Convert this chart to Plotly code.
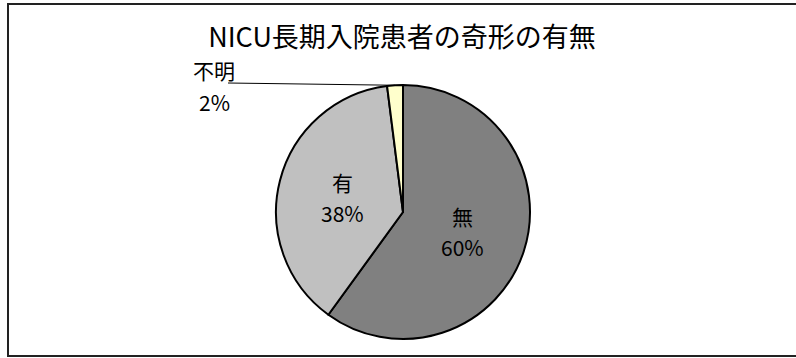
import math
import plotly.graph_objects as go

# Chart data
labels = ["無", "有", "不明"]
values = [60, 38, 2]
colors = ["#808080", "#C0C0C0", "#FFFFCC"]
title_text = "NICU長期入院患者の奇形の有無"

W, H = 796, 358
FONT = "Noto Sans CJK JP"
LABEL_SIZE = 21

# Pie placement (pixels)
cx, cy, R = 403, 212, 127

def px_to_paper(x, y):
    return x / W, 1 - y / H

dx0, dy1 = px_to_paper(cx - R, cy - R)
dx1, dy0 = px_to_paper(cx + R, cy + R)

fig = go.Figure(go.Pie(
    labels=labels,
    values=values,
    sort=False,
    direction="clockwise",
    rotation=0,
    marker=dict(colors=colors, line=dict(color="black", width=2)),
    textinfo="none",
    hoverinfo="skip",
    showlegend=False,
    domain=dict(x=[dx0, dx1], y=[dy0, dy1]),
))

# Slice mid-angles (clockwise from 12 o'clock)
total = sum(values)
mids = []
acc = 0
for v in values:
    mids.append((acc + v / 2) / total * 2 * math.pi)
    acc += v

annotations = []
shapes = []
for lab, v, a in zip(labels, values, mids):
    pct = f"{round(v / total * 100)}%"
    if v / total > 0.05:
        r = 0.49 * R
        x = cx + r * math.sin(a)
        y = cy - r * math.cos(a)
        for txt, off in ((lab, -15), (pct, 16)):
            px, py = px_to_paper(x, y + off)
            annotations.append(dict(x=px, y=py, xref="paper", yref="paper",
                                    text=txt, showarrow=False,
                                    font=dict(family=FONT, size=LABEL_SIZE, color="black"),
                                    xanchor="center", yanchor="middle"))
    else:
        # outside label with leader line
        ex = cx + R * math.sin(a)
        ey = cy - R * math.cos(a)
        lx, ly = 228, 83
        x0p, y0p = px_to_paper(lx, ly)
        x1p, y1p = px_to_paper(ex, ey)
        shapes.append(dict(type="line", xref="paper", yref="paper",
                           x0=x0p, y0=y0p, x1=x1p, y1=y1p,
                           line=dict(color="black", width=1)))
        for txt, off in ((lab, -13), (pct, 19)):
            px, py = px_to_paper(lx - 14, ly + off)
            annotations.append(dict(x=px, y=py, xref="paper", yref="paper",
                                    text=txt, showarrow=False,
                                    font=dict(family=FONT, size=LABEL_SIZE, color="black"),
                                    xanchor="center", yanchor="middle"))

# Chart border
bx0, by0 = px_to_paper(8, 356)
bx1, by1 = px_to_paper(800, 4)
shapes.append(dict(type="rect", xref="paper", yref="paper",
                   x0=bx0, y0=by0, x1=bx1, y1=by1,
                   line=dict(color="#222222", width=2), layer="above"))

tx, ty = px_to_paper(402, 38)
fig.update_layout(
    width=W, height=H,
    margin=dict(l=0, r=0, t=0, b=0),
    paper_bgcolor="white",
    plot_bgcolor="white",
    title=dict(text=title_text, x=tx, y=ty, xref="paper", yref="paper",
               xanchor="center", yanchor="middle",
               font=dict(family=FONT, size=27, color="black")),
    annotations=annotations,
    shapes=shapes,
)

fig.write_html("out.html")
